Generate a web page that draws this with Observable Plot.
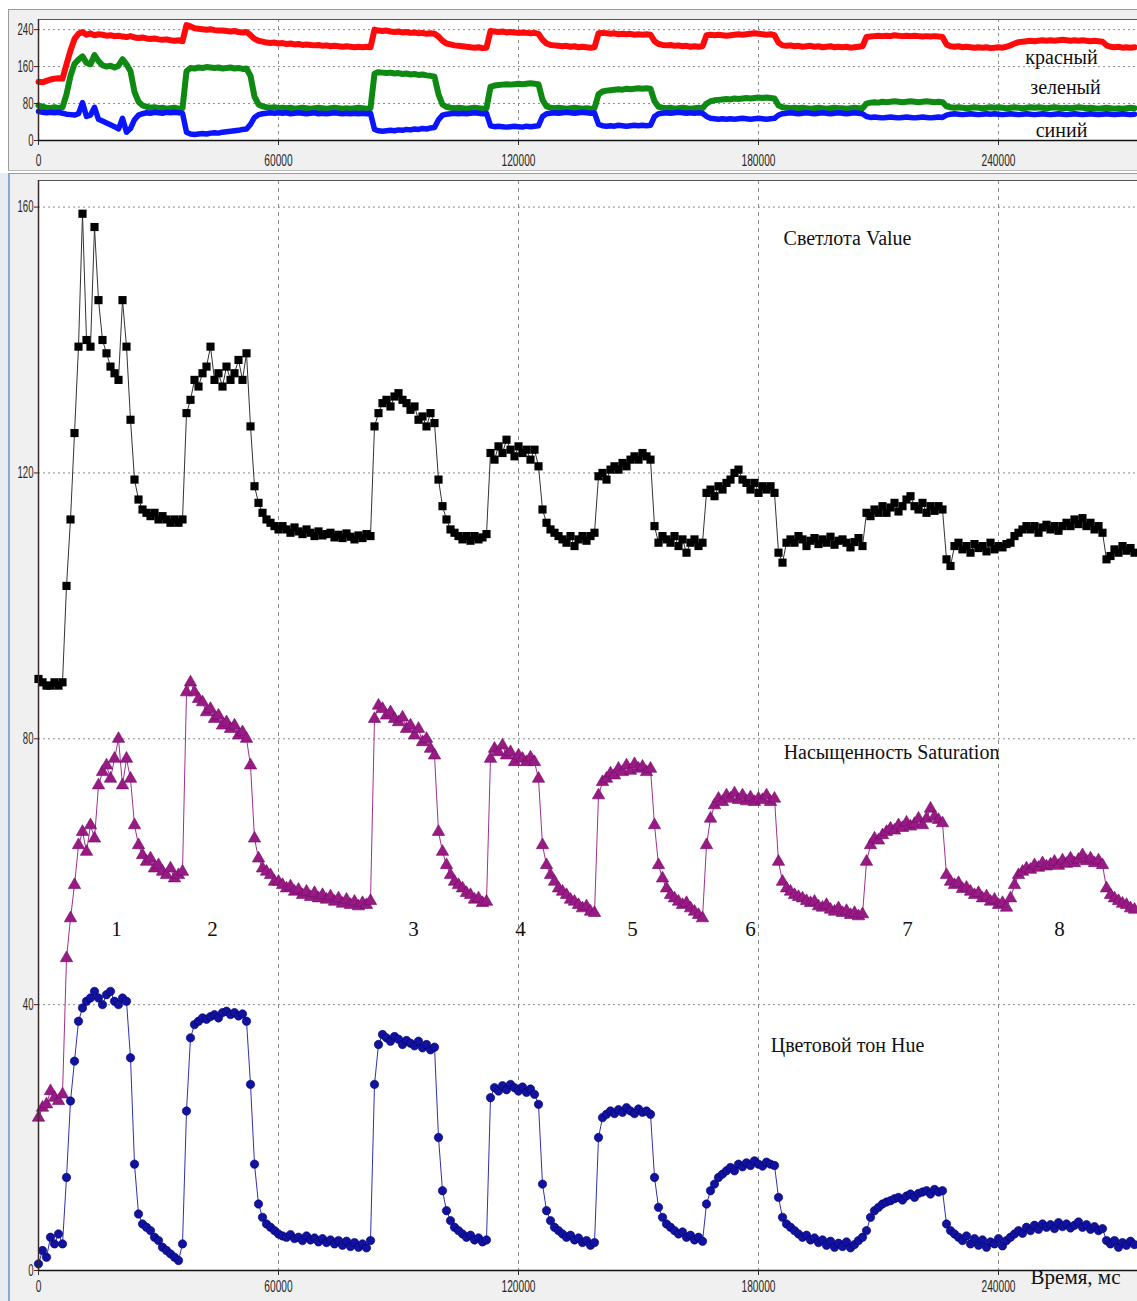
<!DOCTYPE html>
<html>
<head>
<meta charset="utf-8">
<script src="https://cdn.jsdelivr.net/npm/d3@7"></script>
<script src="https://cdn.jsdelivr.net/npm/@observablehq/plot@0.6"></script>
<style>
  html, body { margin: 0; padding: 0; }
  body { width: 1137px; height: 1301px; overflow: hidden; position: relative; background: #ffffff; }
  .chrome { position: absolute; box-sizing: border-box; background: #f0f0f0; }
  #chromeTop { left: 8px; top: 9px; width: 1129px; height: 162px; border-top: 1px solid #9a9a9a; border-left: 1px solid #9a9a9a; border-bottom: 1px solid #b8b8b8; }
  #chromeBottom { left: 8px; top: 173px; width: 1129px; height: 1128px; border-top: 1px solid #9a9a9a; border-left: 2px solid #86a9cc; }
  #stripLeft { position: absolute; left: 0; top: 173px; width: 8px; height: 1128px; background: #e6ecf2; }
  .panel { position: absolute; left: 0; }
  #topPanel { top: 0; }
  #bottomPanel { top: 172px; }
  svg { overflow: visible; }
</style>
</head>
<body>
<div id="stripLeft"></div>
<div class="chrome" id="chromeTop"></div>
<div class="chrome" id="chromeBottom"></div>
<div class="panel" id="topPanel"></div>
<div class="panel" id="bottomPanel"></div>
<script>
// ---------- data (one sample per second) ----------
const timeStepMs = 1000;

const xTicks = [0, 60000, 120000, 180000, 240000];
const topYTicks = [0, 80, 160, 240];
const bottomYTicks = [0, 40, 80, 120, 160];

// top panel: R, G, B channels
const redSeries = [
  127,126,129,132,134,135,134,165,195,220,
  231,235,229,232,228,230,229,227,228,226,
  227,225,224,226,223,222,223,221,220,221,
  219,218,219,217,216,217,215,250,247,243,
  242,241,240,241,239,238,238,237,236,237,
  235,234,235,228,220,216,214,212,211,212,
  210,211,209,210,208,209,207,208,207,206,
  207,205,206,204,205,204,203,204,203,202,
  203,202,203,202,240,238,237,238,236,235,
  236,234,235,233,234,232,233,231,232,231,
  225,216,210,208,206,205,204,203,202,201,
  202,200,201,237,236,235,236,234,235,234,
  233,234,233,232,233,231,218,210,207,206,
  205,204,205,203,204,202,203,202,201,202,
  232,233,232,231,232,230,231,230,231,229,
  230,229,230,229,215,209,207,206,207,205,
  206,204,205,203,204,203,204,228,229,228,
  229,228,227,228,229,230,229,230,231,232,
  231,230,229,230,228,212,206,205,206,204,
  205,203,204,205,203,204,202,203,204,202,
  203,202,203,201,202,203,204,224,225,226,
  227,226,227,226,228,227,226,227,226,227,
  226,225,226,225,226,225,224,208,204,203,
  204,202,203,202,201,202,201,202,200,201,
  202,201,203,206,210,213,214,215,216,215,
  216,217,216,217,216,217,218,217,216,217,
  216,217,216,215,216,215,214,206,203,202,
  203,201,202,201,202
];
const greenSeries = [
  76,73,71,70,72,70,72,100,140,166,
  175,182,168,165,185,172,163,160,162,158,
  162,176,165,150,105,84,76,73,71,72,
  70,71,69,70,71,69,70,150,157,156,
  158,157,159,158,157,158,156,157,158,156,
  157,155,156,140,95,78,74,72,71,72,
  70,71,70,71,69,70,71,70,69,70,
  71,70,69,70,71,70,69,70,69,70,
  71,70,69,70,145,148,147,146,147,145,
  146,144,145,143,144,142,143,141,140,138,
  100,78,73,71,70,71,70,69,70,71,
  70,69,70,116,119,120,121,122,121,122,
  123,122,123,124,123,122,88,74,71,70,
  71,70,69,70,71,70,69,70,69,70,
  100,106,108,109,110,111,110,112,111,112,
  113,112,113,112,85,73,71,70,71,69,
  70,71,70,69,70,71,70,80,85,87,
  88,89,90,89,91,90,91,92,91,92,
  93,92,93,92,91,76,72,71,70,71,
  70,71,70,69,70,71,70,69,70,71,
  70,70,69,70,71,70,70,80,82,83,
  82,84,83,84,85,84,83,84,85,84,
  83,84,85,84,83,84,83,74,72,71,
  72,71,70,71,72,71,70,71,72,71,
  72,71,70,71,72,71,70,71,72,71,
  72,71,70,71,72,71,70,71,70,71,
  72,71,70,71,70,69,70,71,70,69,
  70,69,70,71,70
];
const blueSeries = [
  63,61,60,61,60,61,59,57,56,55,
  58,82,52,55,72,46,42,38,34,30,
  25,48,18,26,45,55,58,60,59,61,
  60,59,61,60,61,60,59,18,14,13,
  14,15,14,16,17,16,18,19,20,21,
  22,24,25,35,50,56,58,59,60,59,
  60,59,60,58,59,60,59,58,59,60,
  58,59,58,59,60,59,58,59,58,59,
  58,59,58,59,24,21,20,21,22,21,
  23,22,24,23,25,24,26,25,27,28,
  45,55,57,58,59,58,59,58,59,60,
  59,58,59,32,30,31,30,29,30,31,
  30,29,31,30,31,32,52,58,59,60,
  59,60,61,60,59,60,61,60,59,60,
  35,32,31,32,31,33,32,31,32,33,
  32,33,32,33,52,58,59,60,59,60,
  61,60,59,60,59,60,59,52,48,47,
  46,47,46,47,46,47,48,47,46,47,
  48,47,46,47,48,55,58,59,60,59,
  58,59,60,59,58,59,60,59,58,59,
  60,59,58,59,60,59,58,52,50,51,
  50,49,50,51,50,49,50,51,50,49,
  50,51,50,49,50,51,50,55,57,58,
  57,56,57,58,57,56,57,58,57,58,
  57,56,57,58,57,56,57,58,57,56,
  57,58,57,56,57,58,57,56,57,58,
  57,56,57,58,57,56,57,58,57,56,
  57,58,57,56,57
];

// bottom panel: Value (Светлота), Saturation (Насыщенность), Hue (Цветовой тон)
const valueSeries = [
  89,88.5,88,88,88.5,88,88.5,103,113,126,
  139,159,140,139,157,146,140,138,136,135,
  134,146,139,128,119,116,114.5,114,113.5,114,
  113,113.5,113,112.5,113,112.5,113,129,131,134,
  133,135,136,139,134,135,133,136,134,135,
  137,134,138,127,118,115.5,114,113,112.5,112,
  111.5,112,111.5,111,111.8,111.2,110.8,111.5,111,110.5,
  111.2,110.6,110.8,111,110.3,110.7,110.2,110.9,110.4,110,
  110.6,110.2,110.8,110.5,127,129,130.5,131,130,131.5,
  132,131,130.5,129.5,130,128,128.5,127,129,127.5,
  119,115,113,111.5,111,110.5,110,110.5,109.8,110.5,
  110,110.3,110.8,123,122,124,123,125,123.5,122.5,
  124,123,123.5,122,123.5,121,114.5,112.5,111.5,111,
  110.5,110,109.5,110.5,109,110,110.5,109.8,110.5,111,
  119.5,120,119,120.5,121,120.5,121.5,121,122,122.5,
  122,123,122.5,122,112,109.5,110.5,110,109.5,110.5,
  109,110,108,109.5,110,109,109.5,117,117.5,116.5,
  118,117.5,118.5,119,120,120.5,119,118.5,117.5,118.5,
  117,118,117.5,118,117,108,106.5,109.5,110,109.5,
  110.5,110,109,109.8,110.2,109.3,110,109.5,110.4,109.2,
  109.8,110,109.5,108.8,109.6,110.2,109,114,113.5,114.5,
  114,115,114,114.8,115.5,114.2,115,116,116.5,115,
  114.5,115.5,114,115,114.3,115,114.5,107,106,109,
  109.5,108.5,109,108,109.3,108.7,109,108.2,109.5,108.5,
  109,108.8,109.3,109.5,110.5,111,111.5,112,111.5,112,
  111,111.8,112.2,111.5,112,111.3,112,112.5,112,113,
  112.3,113.2,112,112.5,111.5,112,111,107,107.5,108.5,
  108,109,108.3,108.7,108
];
const saturationSeries = [
  23,24.5,25,27,26,25.5,26.5,47,53,58,
  64,66,63,67,65,73,75,76,74,77,
  80,73,77,74,67,64,62.5,61.5,62,60.5,
  61,60,59.5,60.5,59,59.5,60,87,88.5,87,
  86,85.5,84,84.5,83,83.5,82,82.5,81.5,82,
  80.5,81,80,76,65,62,60.5,60,59.5,58.5,
  58.5,58,57.5,57.8,57,57.3,56.5,57,56.2,56.8,
  56,56.5,55.8,56.3,55.5,56,55.2,55.8,55,55.5,
  54.8,55.3,55,55.6,83,85,84.5,83.5,84,83,
  82.5,83.2,81.5,82,80.5,81.5,79.5,80,78.5,77.5,
  66,63,61,59.5,58.5,58,57.5,56.8,56.5,55.8,
  56,55.3,55.5,77,78.5,78,79,77.5,78,76.5,
  77.5,77,76.5,77.2,76.5,74,64,61,59.5,58.5,
  57.5,57,56.5,55.8,55.5,55,54.5,54.8,54,53.8,
  71.5,73.5,74,74.8,74.5,75.5,75,76,75.2,76.2,
  75.5,75.8,75,75.5,67,61,59,57.5,56.5,56,
  55.5,55,55.3,54.5,54,53.5,53,64,68,70,
  71,70.5,71.5,71,71.8,70.8,71.5,70.6,71.2,70.5,
  71,70.8,71.5,70.5,71,61.5,58.5,57.5,57,56.5,
  56.2,56,55.6,55.3,55.5,54.8,54.6,55,54.3,54,
  54.5,53.8,54.1,53.5,53.8,53.3,53.6,61.5,64,65,
  64.7,65.5,66,66.5,66.2,67,66.6,67.4,66.8,67.2,
  68,67,68,69.5,68.3,67.8,67.3,59.5,58.5,58,
  58.3,57.4,57.6,57,56.5,56.8,56,56.3,55.5,55.8,
  55,55.3,54.6,56,58,59.5,60,60.5,60.3,61,
  60.6,61.3,60.8,61.1,61.5,60.9,61.7,61.2,62,61.3,
  61.8,62.5,61.6,62,61.3,61.7,61,57.5,56.5,56,
  55.6,55.2,55,54.5,54.3
];
const hueSeries = [
  1,3,2,5,4,5.5,4,14,25.5,31.5,
  37.5,39.5,40.5,41,42,41,40,41.5,42,40.5,
  40,41,40.5,32,16,8.5,7,6.5,6,5,
  4.5,3.5,3,2.5,2,1.5,4,24,35,37,
  37.5,38,37.8,38.2,38.5,38,38.8,39,38.5,38.8,
  38.3,38.6,37.5,28,16,10,8,7,6.5,6,
  5.5,5.2,5,5.4,4.8,5,4.5,5.2,4.6,4.9,
  4.3,4.8,4.2,4.6,4,4.5,3.8,4.4,3.6,4.2,
  3.5,4,3.4,4.5,28,34,35.5,35,34.5,35.2,
  34.8,34,34.6,34.2,33.8,34.5,33.5,34,33.2,33.6,
  20,12,9,7.5,6.5,6,5.5,5,5.3,4.6,
  4.9,4.3,4.6,26,27.5,27,27.8,27.2,28,27.5,
  27,27.6,26.8,27.3,26.5,25,13,9,7.5,6.5,
  6,5.5,5,5.3,4.6,4.9,4.2,4.5,3.8,4.2,
  20,23,23.5,24,23.6,24.2,23.8,24.5,24,23.6,
  24.3,23.8,24,23.5,14,9.5,8,7,6.5,6,
  5.5,5.8,5,5.3,4.6,5,4.4,10,12,13,
  14,14.5,15,15.5,15,16,15.6,16.2,15.8,16.5,
  16,15.7,16.3,16,15.8,11,8,7,6.5,6,
  5.5,5,5.3,4.6,4.9,4.2,4.6,3.8,4.4,3.5,
  4.1,3.6,4.3,3.4,3.9,4.5,5,6,8,9,
  9.5,10,10.3,10.5,10.8,11,10.6,11.2,11.5,11,
  11.6,11.8,12,11.5,12.2,11.8,12,7,6,5.5,
  5,4.5,5.2,4,4.8,3.8,4.6,3.5,4.3,4,
  4.8,3.7,4.5,5,5.5,6,5.6,6.5,6,6.8,
  6.2,7,6.5,6.9,6.3,7.2,6.6,7,6.4,6.8,
  7.3,6.5,6.9,6.2,6.6,6,6.3,4.5,4,4.5,
  3.5,4.2,3.8,4.4,3.9
];

// text labels (position in data units: time ms, value)
const channelLabels = [
  {label: "красный", t: 255750, v: 179},
  {label: "зеленый", t: 256750, v: 114},
  {label: "синий",   t: 255750, v: 21}
];
const seriesLabels = [
  {label: "Светлота Value",          t: 202250, v: 155.3},
  {label: "Насыщенность Saturation", t: 213250, v: 77.9},
  {label: "Цветовой тон Hue",        t: 202250, v: 33.8}
];
const pulseNumbers = [
  {label: "1", t: 19500},  {label: "2", t: 43500},
  {label: "3", t: 93750},  {label: "4", t: 120500},
  {label: "5", t: 148500}, {label: "6", t: 178000},
  {label: "7", t: 217250}, {label: "8", t: 255250}
];
const pulseNumberLevel = 51.4;
const timeAxisTitle = {label: "Время, мс", t: 259250};

// ---------- tables ----------
const rgbRows = redSeries.map((r, i) => ({t: i * timeStepMs, red: r, green: greenSeries[i], blue: blueSeries[i]}));
const hsvRows = valueSeries.map((v, i) => ({t: i * timeStepMs, value: v, saturation: saturationSeries[i], hue: hueSeries[i]}));

const xDomain = [0, 274750];
const tickFont = "'Liberation Sans', Arial, sans-serif";
const serifFont = "'Liberation Serif', 'Times New Roman', serif";
const fmt = d3.format("d");

// narrow the tick labels horizontally (the original uses a tall condensed face)
function condense(svg) {
  svg.querySelectorAll('g[aria-label$="tick label"] text').forEach(t => {
    const tr = t.getAttribute("transform") || "";
    t.setAttribute("transform", tr + " scale(0.6,1)");
  });
  return svg;
}

// ---------- top panel ----------
const topMax = 262;
const topChart = Plot.plot({
  width: 1137, height: 172,
  marginLeft: 38, marginRight: 0, marginTop: 19, marginBottom: 32,
  style: {background: "transparent", overflow: "visible"},
  x: {domain: xDomain},
  y: {domain: [0, topMax]},
  marks: [
    Plot.frame({fill: "white", stroke: null}),
    Plot.gridX(xTicks.slice(1), {stroke: "#8a8a8a", strokeOpacity: 1, strokeDasharray: "3,4"}),
    Plot.gridY(topYTicks.slice(1), {stroke: "#8a8a8a", strokeOpacity: 1, strokeDasharray: "2,3"}),
    Plot.line(rgbRows, {x: "t", y: "red", stroke: "#ff0a0a", strokeWidth: 6, strokeLinejoin: "round"}),
    Plot.line(rgbRows, {x: "t", y: "green", stroke: "#0e8a12", strokeWidth: 6, strokeLinejoin: "round"}),
    Plot.line(rgbRows, {x: "t", y: "blue", stroke: "#0a14ff", strokeWidth: 5.5, strokeLinejoin: "round"}),
    Plot.ruleY([topMax], {stroke: "#555"}),
    Plot.ruleX([0], {stroke: "#3a2a2a", strokeWidth: 1.5}),
    Plot.ruleY([0], {stroke: "#111", strokeWidth: 1.5}),
    Plot.axisX(xTicks, {tickFormat: fmt, tickSize: 5, tickPadding: 8, fontSize: 17, fontFamily: tickFont, color: "#2a2a2a", label: null}),
    Plot.axisY(topYTicks, {tickSize: 4, tickPadding: 1, fontSize: 16, fontFamily: tickFont, color: "#2a2a2a", label: null}),
    Plot.text(channelLabels, {x: "t", y: "v", text: "label", fontSize: 20, fontFamily: serifFont, fill: "#111"})
  ]
});
document.getElementById("topPanel").append(condense(topChart));

// ---------- bottom panel ----------
const bottomMax = 164;
const bottomChart = Plot.plot({
  width: 1137, height: 1129,
  marginLeft: 38, marginRight: 0, marginTop: 8, marginBottom: 31,
  style: {background: "transparent", overflow: "visible"},
  x: {domain: xDomain},
  y: {domain: [0, bottomMax]},
  marks: [
    Plot.frame({fill: "white", stroke: null}),
    Plot.gridX(xTicks.slice(1), {stroke: "#8a8a8a", strokeOpacity: 1, strokeDasharray: "4,4"}),
    Plot.gridY(bottomYTicks.slice(1), {stroke: "#8a8a8a", strokeOpacity: 1, strokeDasharray: "2,3"}),
    Plot.line(hsvRows, {x: "t", y: "value", stroke: "#333", strokeWidth: 1}),
    Plot.line(hsvRows, {x: "t", y: "saturation", stroke: "#a0308e", strokeWidth: 1}),
    Plot.line(hsvRows, {x: "t", y: "hue", stroke: "#3030b0", strokeWidth: 1}),
    Plot.dot(hsvRows, {x: "t", y: "value", symbol: "square", r: 4.6, fill: "#000", stroke: null}),
    Plot.dot(hsvRows, {x: "t", y: "saturation", symbol: "triangle", r: 4.6, fill: "#9a1a84", stroke: "#6e0a6a", strokeWidth: 0.6}),
    Plot.dot(hsvRows, {x: "t", y: "hue", symbol: "circle", r: 4.2, fill: "#1212a0", stroke: "#00006e", strokeWidth: 0.6}),
    Plot.ruleY([bottomMax], {stroke: "#555"}),
    Plot.ruleX([0], {stroke: "#3a2a2a", strokeWidth: 1.5}),
    Plot.ruleY([0], {stroke: "#111", strokeWidth: 1.5}),
    Plot.axisX(xTicks, {tickFormat: fmt, tickSize: 5, tickPadding: 4, fontSize: 17, fontFamily: tickFont, color: "#2a2a2a", label: null}),
    Plot.axisY(bottomYTicks, {tickSize: 4, tickPadding: 1, fontSize: 16, fontFamily: tickFont, color: "#2a2a2a", label: null}),
    Plot.text(seriesLabels, {x: "t", y: "v", text: "label", fontSize: 20, fontFamily: serifFont, fill: "#111"}),
    Plot.text(pulseNumbers, {x: "t", y: () => pulseNumberLevel, text: "label", fontSize: 21, fontFamily: serifFont, fill: "#111"}),
    Plot.text([timeAxisTitle], {x: "t", frameAnchor: "bottom", dy: 13, text: "label", fontSize: 21, fontFamily: serifFont, fill: "#111"})
  ]
});
document.getElementById("bottomPanel").append(condense(bottomChart));
</script>
</body>
</html>
